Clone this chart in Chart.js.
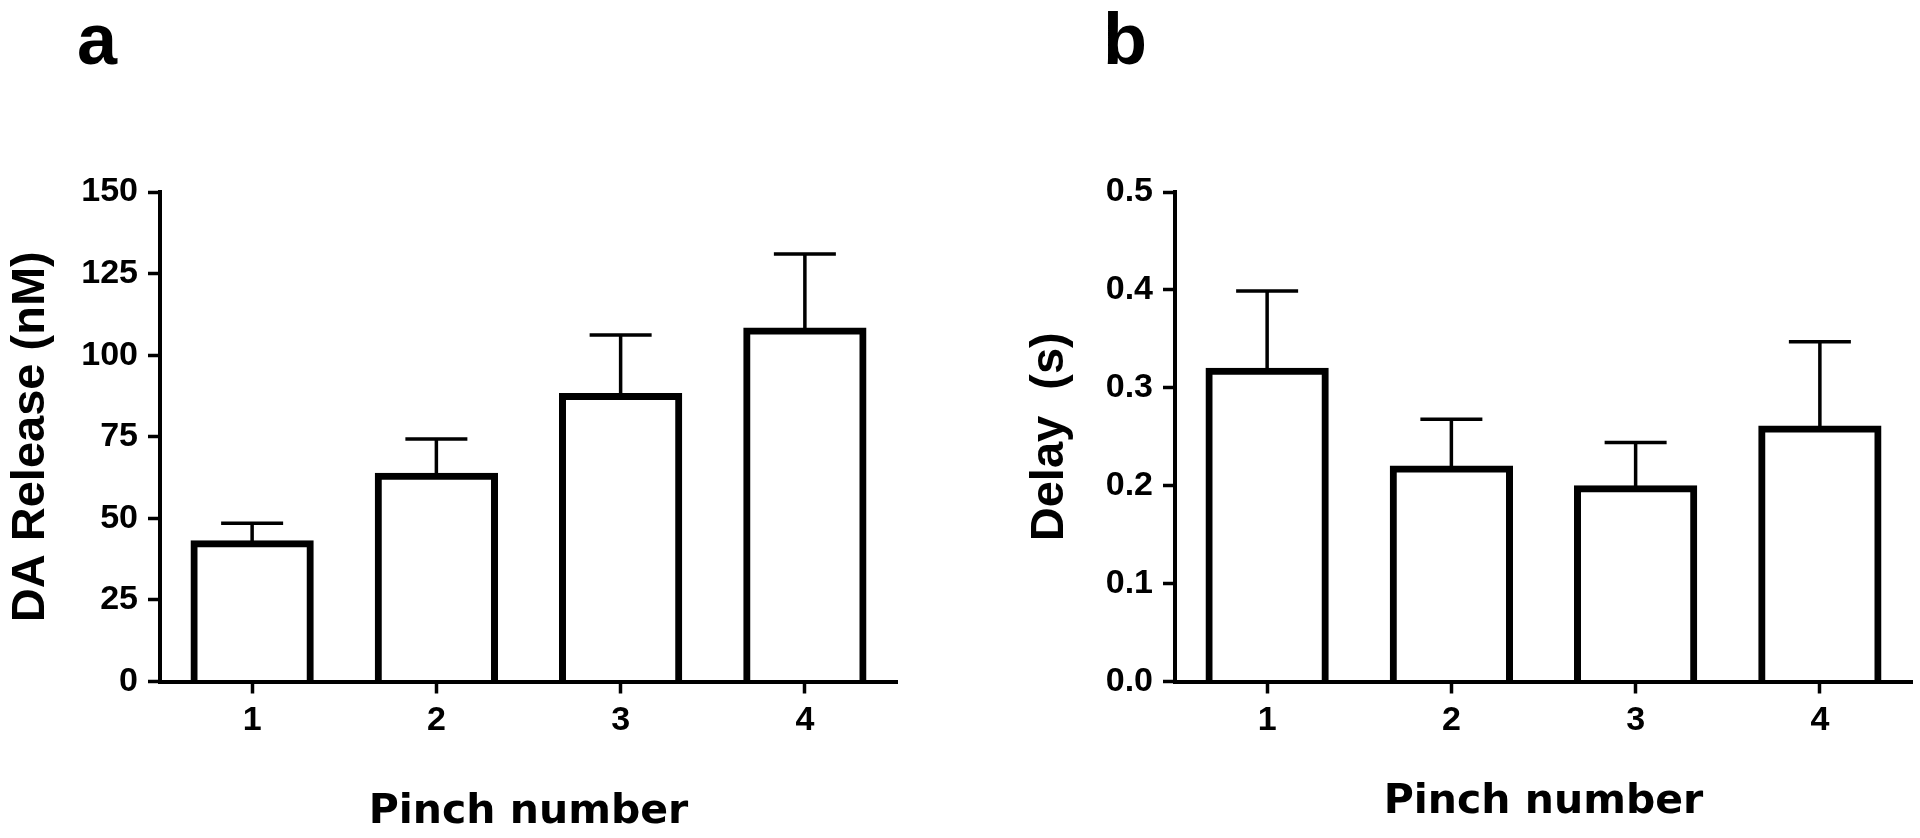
<!DOCTYPE html>
<html>
<head>
<meta charset="utf-8">
<script src="https://cdn.jsdelivr.net/npm/chart.js@4"></script>
<style>
  html, body { margin: 0; padding: 0; background: #ffffff; width: 1920px; height: 838px; overflow: hidden; }
  .panel { position: absolute; top: 0; width: 960px; height: 838px; }
  .lbl { position: absolute; font-family: "Liberation Sans", Arial, sans-serif; font-weight: bold; font-size: 72px; line-height: 1; color: #000; }
</style>
</head>
<body>
<div class="panel" style="left:0"><canvas id="chartA" width="960" height="838"></canvas></div>
<div class="panel" style="left:960px"><canvas id="chartB" width="960" height="838"></canvas></div>
<div class="lbl" style="left:77px; top:3px;">a</div>
<div class="lbl" style="left:1103px; top:3px;">b</div>
<script>
// ---- data ----
const categories = ['1', '2', '3', '4'];
const releaseMean = [42.2, 62.9, 87.3, 107.4];
const releaseSem = [6.3, 11.4, 18.9, 23.6];
const releaseTicks = [0, 25, 50, 75, 100, 125, 150];
const delayMean = [0.317, 0.217, 0.197, 0.258];
const delaySem = [0.082, 0.051, 0.047, 0.089];
const delayTicks = [0, 0.1, 0.2, 0.3, 0.4, 0.5];
const releaseTitle = 'DA Release (nM)';
const delayTitle = 'Delay  (s)';
const xTitle = 'Pinch number';

const FONT = '"Liberation Sans", Arial, sans-serif';

const errorBars = {
  id: 'errorBars',
  afterDatasetsDraw(chart, args, opts) {
    const ctx = chart.ctx;
    const meta = chart.getDatasetMeta(0);
    const ys = chart.scales.y;
    const means = chart.data.datasets[0].data;
    const sems = opts.sem;
    ctx.save();
    ctx.strokeStyle = '#000';
    ctx.lineWidth = 3.5;
    ctx.lineCap = 'butt';
    meta.data.forEach((bar, i) => {
      const yb = ys.getPixelForValue(means[i]);
      const yt = ys.getPixelForValue(means[i] + sems[i]);
      ctx.beginPath();
      ctx.moveTo(bar.x, yb);
      ctx.lineTo(bar.x, yt);
      ctx.moveTo(bar.x - 31, yt);
      ctx.lineTo(bar.x + 31, yt);
      ctx.stroke();
    });
    ctx.restore();
  }
};

function makeChart(id, means, sems, ticks, yTitle, yWidth, yTitlePad, rightPad, xTitlePad, fmt) {
  return new Chart(document.getElementById(id), {
    type: 'bar',
    data: {
      labels: categories,
      datasets: [{
        data: means,
        backgroundColor: '#ffffff',
        borderColor: '#000000',
        borderWidth: 7,
        inflateAmount: 3.5,
        borderSkipped: 'start',
        barPercentage: 0.631,
        categoryPercentage: 1.0
      }]
    },
    options: {
      responsive: false,
      animation: false,
      events: [],
      layout: { padding: { left: 0, right: rightPad, top: 192, bottom: 0 } },
      plugins: {
        legend: { display: false },
        tooltip: { enabled: false },
        title: { display: false },
        errorBars: { sem: sems }
      },
      scales: {
        x: {
          type: 'category',
          offset: true,
          afterFit(s) { s.height = 156.5; },
          grid: { display: true, drawOnChartArea: false, offset: false, tickLength: 12, tickWidth: 3.5, tickColor: '#000' },
          border: { display: true, color: '#000', width: 4, z: 1 },
          ticks: { color: '#000', padding: 7, font: { family: FONT, weight: 'bold', size: 34 } },
          title: { display: true, text: xTitle, color: '#000', padding: { top: 0, bottom: xTitlePad }, font: { family: '"DejaVu Sans", sans-serif', weight: 'bold', size: 41 } }
        },
        y: {
          min: ticks[0],
          max: ticks[ticks.length - 1],
          afterFit(s) { s.width = yWidth; },
          afterBuildTicks(s) { s.ticks = ticks.map(v => ({ value: v })); },
          grid: { display: true, drawOnChartArea: false, tickLength: 12, tickWidth: 3.5, tickColor: '#000' },
          border: { display: true, color: '#000', width: 4, z: 1 },
          ticks: { color: '#000', padding: 10, font: { family: FONT, weight: 'bold', size: 34 }, callback: fmt },
          title: { display: true, text: yTitle, color: '#000', padding: { top: yTitlePad, bottom: 0 }, font: { family: FONT, weight: 'bold', size: 47 } }
        }
      }
    },
    plugins: [errorBars]
  });
}

makeChart('chartA', releaseMean, releaseSem, releaseTicks, releaseTitle, 160, 3, 63, 1, v => String(v));
makeChart('chartB', delayMean, delaySem, delayTicks, delayTitle, 215, 62, 8, 11, v => Number(v).toFixed(1));
</script>
</body>
</html>
